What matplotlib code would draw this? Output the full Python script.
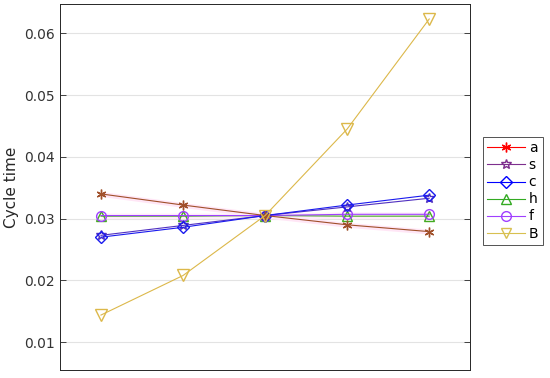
import numpy as np
import matplotlib.pyplot as plt
from matplotlib.lines import Line2D

x = [1, 2, 3, 4, 5]
series_names = ['a', 's', 'c', 'h', 'f', 'B']
a_vals = [0.0340, 0.0322, 0.0305, 0.0290, 0.0279]
s_vals = [0.0273, 0.0289, 0.0305, 0.0319, 0.0333]
c_vals = [0.0270, 0.0286, 0.0305, 0.0322, 0.0338]
h_vals = [0.0304, 0.0304, 0.0305, 0.0304, 0.0304]
f_vals = [0.0305, 0.0305, 0.0305, 0.0307, 0.0307]
B_vals = [0.0144, 0.0208, 0.0305, 0.0445, 0.0623]
yticks = [0.01, 0.02, 0.03, 0.04, 0.05, 0.06]

fig = plt.figure(figsize=(5.5, 3.78), dpi=100)
ax = fig.add_axes([0.109, 0.021, 0.746, 0.968])

# faint bands like the original
ax.fill_between(x, np.array(a_vals) - 0.0004, np.array(a_vals) + 0.0004,
                color='#ffe6f6', lw=0, zorder=1)
ax.fill_between(x, np.array(h_vals) - 0.0004, np.array(f_vals) + 0.0004,
                color='#ffeefa', lw=0, zorder=1)

ax.plot(x, h_vals, color='#44aa22', marker='^', ms=7, mfc='none', lw=0.8, zorder=3)
ax.plot(x, f_vals, color='#a040ff', marker='o', ms=7, mfc='none', lw=0.8, zorder=3)
ax.plot(x, s_vals, color='#5030c0', marker='*', ms=7, mfc='none', lw=0.8, zorder=3)
ax.plot(x, c_vals, color='#1a1aee', marker='D', ms=6, mfc='none', lw=0.8, zorder=3)
ax.plot(x, a_vals, color='#a0502a', marker=(6, 2, 0), ms=7, lw=0.8, zorder=4)
ax.plot(x, B_vals, color='#dcb84a', marker='v', ms=8, mfc='none', lw=0.8, zorder=4)

ax.set_xlim(0.5, 5.5)
ax.set_ylim(0.0055, 0.0647)
ax.set_yticks(yticks)
ax.set_yticklabels(['0.01', '0.02', '0.03', '0.04', '0.05', '0.06'])
ax.set_xticks([])
ax.yaxis.grid(True, color='#e3e3e3', lw=0.8)
ax.set_axisbelow(True)
ax.tick_params(axis='y', direction='in', length=4, right=True, labelsize=10,
               colors='#262626', labelcolor='#333333', width=0.6)
for sp in ax.spines.values():
    sp.set_color('#262626')
    sp.set_linewidth(0.7)
ax.set_ylabel('Cycle time', fontsize=11, color='#262626', labelpad=4)

leg_colors = ['#ff0000', '#7e2f8e', '#0000ff', '#33aa22', '#a040ff', '#d8c050']
leg_markers = [(6, 2, 0), '*', 'D', '^', 'o', 'v']
handles = [Line2D([], [], color=c, marker=m, ms=7 if m != 'D' else 6,
                  mfc='none', lw=0.8)
           for c, m in zip(leg_colors, leg_markers)]
leg = fig.legend(handles, series_names, loc='center left',
                 bbox_to_anchor=(0.878, 0.495), frameon=True, fancybox=False,
                 fontsize=10, handlelength=2.7, labelspacing=0.22,
                 borderpad=0.3, handletextpad=0.3, borderaxespad=0)
leg.get_frame().set_edgecolor('#262626')
leg.get_frame().set_linewidth(0.7)

plt.savefig('out.png', dpi=100)
